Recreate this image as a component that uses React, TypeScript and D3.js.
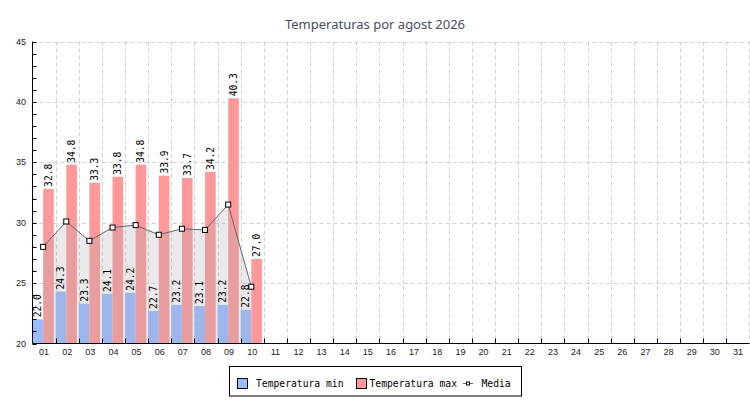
import * as d3 from "d3";

// Categories (days of the month)
const days = [
  "01", "02", "03", "04", "05", "06", "07", "08", "09", "10",
  "11", "12", "13", "14", "15", "16", "17", "18", "19", "20",
  "21", "22", "23", "24", "25", "26", "27", "28", "29", "30", "31",
];

// Series (only the first 10 days have data)
const tempMin = [22.0, 24.3, 23.3, 24.1, 24.2, 22.7, 23.2, 23.1, 23.2, 22.8];
const tempMax = [32.8, 34.8, 33.3, 33.8, 34.8, 33.9, 33.7, 34.2, 40.3, 27.0];
const media = [28.0, 30.1, 28.5, 29.6, 29.8, 29.0, 29.5, 29.4, 31.5, 24.7];

const yTicks = [20, 25, 30, 35, 40, 45];
const yMinorTicks = d3.range(20, 46, 1);

const W = 750;
const H = 400;
const left = 32.5;
const right = 749.5;
const top = 41.5;
const bottom = 343.5;

const MIN_COLOR = "#99bbff";
const MAX_COLOR = "#ff9999";
const MONO = "'DejaVu Sans Mono', monospace";
const AXIS_FONT = "'Liberation Sans', Arial, sans-serif";

const App = () => {
  const x = d3.scaleBand<string>().domain(days).range([left, right]).padding(0);
  const y = d3.scaleLinear().domain([20, 45]).range([bottom, top]);
  const band = x.bandwidth();
  const bw = band * 0.46;

  const rows = tempMin.map((mn, i) => ({
    day: days[i],
    min: mn,
    max: tempMax[i],
    media: media[i],
  }));

  const px = (d: { day: string }) => (x(d.day) as number) + bw;

  const area = d3
    .area<(typeof rows)[number]>()
    .x(px)
    .y0(y(20))
    .y1((d) => y(d.media));
  const line = d3
    .line<(typeof rows)[number]>()
    .x(px)
    .y((d) => y(d.media));

  return (
    <svg
      width={W}
      height={H}
      style={{ position: "absolute", left: 0, top: 0, background: "#fff" }}
    >
      {/* Title */}
      <text
        x={W / 2}
        y={29}
        textAnchor="middle"
        fill="#474d60"
        fontSize={13}
        fontFamily="'Noto Sans', sans-serif"
      >
        Temperaturas por agost 2026
      </text>

      {/* Grid */}
      <g stroke="#d0d0d0" strokeDasharray="4,3" strokeWidth={1}>
        {yTicks.slice(1).map((t) => (
          <line key={"gy" + t} x1={left} x2={right} y1={Math.round(y(t)) + 0.5} y2={Math.round(y(t)) + 0.5} />
        ))}
        {days.map((d, i) =>
          i === 0 ? null : (
            <line key={"gx" + d} x1={Math.round(x(d) as number) + 0.5} x2={Math.round(x(d) as number) + 0.5} y1={top} y2={bottom} />
          )
        )}
        <line x1={right} x2={right} y1={top} y2={bottom} />
      </g>

      {/* Bars */}
      {rows.map((d) => (
        <g key={"b" + d.day}>
          <rect
            x={x(d.day) as number}
            y={y(d.min)}
            width={bw}
            height={y(20) - y(d.min)}
            fill={MIN_COLOR}
          />
          <rect
            x={(x(d.day) as number) + bw}
            y={y(d.max)}
            width={bw}
            height={y(20) - y(d.max)}
            fill={MAX_COLOR}
          />
        </g>
      ))}

      {/* Media area + line */}
      <path d={area(rows) || ""} fill="rgba(170,170,178,0.25)" />
      <path d={line(rows) || ""} fill="none" stroke="#666" strokeWidth={1} />
      {rows.map((d) => (
        <rect
          key={"m" + d.day}
          x={px(d) - 2.5}
          y={y(d.media) - 2.5}
          width={5}
          height={5}
          fill="#fff"
          stroke="#000"
          strokeWidth={1}
        />
      ))}

      {/* Value labels */}
      <g fontFamily={MONO} fontSize={9.6} fill="#000">
        {rows.map((d) => {
          const cxMin = (x(d.day) as number) + bw / 2;
          const cxMax = (x(d.day) as number) + bw * 1.5;
          return (
            <g key={"l" + d.day}>
              <text
                transform={`translate(${cxMin},${y(d.min) - 2}) rotate(-90)`}
                dominantBaseline="central"
              >
                {d.min.toFixed(1)}
              </text>
              <text
                transform={`translate(${cxMax},${y(d.max) - 2}) rotate(-90)`}
                dominantBaseline="central"
              >
                {d.max.toFixed(1)}
              </text>
            </g>
          );
        })}
      </g>

      {/* Y axis */}
      <g stroke="#000" strokeWidth={1}>
        <line x1={left} x2={left} y1={top} y2={bottom} />
        {yMinorTicks.map((t) => (
          <line key={"yt" + t} x1={left} x2={left + 4} y1={Math.round(y(t)) + 0.5} y2={Math.round(y(t)) + 0.5} />
        ))}
      </g>
      <g fontFamily={AXIS_FONT} fontSize={9} fill="#222" textAnchor="end">
        {yTicks.map((t) => (
          <text key={"yl" + t} x={26} y={y(t)} dominantBaseline="central">
            {t}
          </text>
        ))}
      </g>

      {/* X axis */}
      <g stroke="#000" strokeWidth={1}>
        <line x1={left} x2={right} y1={bottom} y2={bottom} />
        {days.map((d) => (
          <line
            key={"xt" + d}
            x1={Math.round((x(d) as number) + band) + 0.5}
            x2={Math.round((x(d) as number) + band) + 0.5}
            y1={bottom}
            y2={bottom - 5}
          />
        ))}
      </g>
      <g fontFamily={AXIS_FONT} fontSize={9} fill="#222" textAnchor="middle">
        {days.map((d) => (
          <text key={"xl" + d} x={(x(d) as number) + band / 2} y={354.5}>
            {d}
          </text>
        ))}
      </g>

      {/* Legend */}
      <g>
        <rect x={229.5} y={366.5} width={292} height={29.5} fill="#fff" stroke="#000" />
        <rect x={237.5} y={378.5} width={10} height={10} fill={MIN_COLOR} stroke="#000" />
        <text x={256} y={387} fontFamily={MONO} fontSize={9.7} fill="#000">
          Temperatura min
        </text>
        <rect x={356.5} y={378.5} width={10} height={10} fill={MAX_COLOR} stroke="#000" />
        <text x={369.5} y={387} fontFamily={MONO} fontSize={9.7} fill="#000">
          Temperatura max
        </text>
        <line x1={463} x2={473} y1={383.5} y2={383.5} stroke="#666" />
        <rect x={466.5} y={382} width={3} height={3} fill="#fff" stroke="#000" />
        <text x={481.5} y={387} fontFamily={MONO} fontSize={9.7} fill="#000">
          Media
        </text>
      </g>
    </svg>
  );
};

export default App;
